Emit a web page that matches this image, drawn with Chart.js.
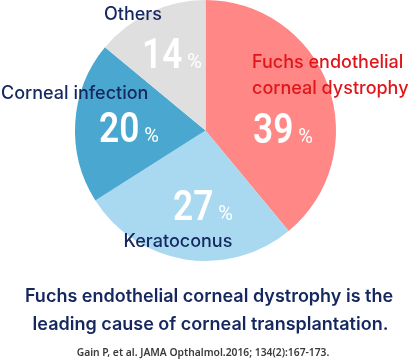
<!DOCTYPE html>
<html>
<head>
<meta charset="utf-8">
<script src="https://cdn.jsdelivr.net/npm/chart.js@4/dist/chart.umd.min.js"></script>
<style>
  html, body { margin:0; padding:0; background:#fff; }
  #wrap { position:relative; width:410px; height:360px; }
</style>
</head>
<body>
<div id="wrap"><canvas id="pie" width="410" height="360"></canvas></div>
<script>
'use strict';

/* ─── Data ─────────────────────────────────────────────────────── */
const categories = ['Fuchs endothelial corneal dystrophy', 'Keratoconus', 'Corneal infection', 'Others'];
const shares     = [39, 27, 20, 14];
const colors     = ['#ff8785', '#a9d9f1', '#4aa7cf', '#dfdfdf'];

const NAVY = '#15275f';
const RED  = '#e0151a';

/* ─── Text placement (layout only) ─────────────────────────────── */
const nameLabels = [
  { lines:['Fuchs endothelial', 'corneal dystrophy'], x:252, y:68, align:'left',  color:RED },
  { lines:['Keratoconus'],       x:178, y:247, align:'center', color:NAVY },
  { lines:['Corneal infection'], x:1,   y:99,  align:'left',   color:NAVY },
  { lines:['Others'],            x:133, y:20,  align:'center', color:NAVY },
];
const pctPos = [
  { x:253, y:143 },
  { x:173, y:220 },
  { x:99,  y:142 },
  { x:142, y:68 },
];

/* ─── Label plugin ─────────────────────────────────────────────── */
const labelPlugin = {
  id: 'labels',
  afterDraw(chart) {
    const ctx = chart.ctx;
    const vals = chart.data.datasets[0].data;
    ctx.save();
    ctx.textBaseline = 'alphabetic';

    // percentages: condensed bold number + small %
    vals.forEach((v, i) => {
      const p = pctPos[i];
      ctx.fillStyle = '#ffffff';
      ctx.textAlign = 'left';
      ctx.font = '600 42px Roboto';
      const sx = 0.84;
      const w = ctx.measureText(String(v)).width * sx;
      ctx.save();
      ctx.translate(p.x, p.y);
      ctx.scale(sx, 1);
      ctx.fillText(String(v), 0, 0);
      ctx.restore();
      ctx.font = '400 20px Roboto';
      ctx.fillText('%', p.x + w + 5, p.y);
    });

    // category names
    ctx.font = '500 18px Inter';
    nameLabels.forEach(l => {
      ctx.fillStyle = l.color;
      ctx.textAlign = l.align;
      l.lines.forEach((t, j) => ctx.fillText(t, l.x, l.y + j * 26));
    });

    // caption
    ctx.fillStyle = NAVY;
    ctx.textAlign = 'center';
    ctx.font = '600 18px Inter';
    ctx.fillText('Fuchs endothelial corneal dystrophy is the', 209, 302);
    ctx.fillText('leading cause of corneal transplantation.', 210.5, 330);

    ctx.fillStyle = '#3a3a3a';
    ctx.font = '600 10.3px "Noto Sans"';
    ctx.fillText('Gain P, et al. JAMA Opthalmol.2016; 134(2):167-173.', 203, 356);
    ctx.restore();
  }
};

/* ─── Chart ────────────────────────────────────────────────────── */
new Chart(document.getElementById('pie'), {
  type: 'pie',
  data: {
    labels: categories,
    datasets: [{
      data: shares,
      backgroundColor: colors,
      borderWidth: 0,
    }]
  },
  options: {
    responsive: false,
    animation: false,
    layout: { padding: { top:0, bottom:99, left:75, right:74 } },
    plugins: {
      legend:  { display:false },
      tooltip: { enabled:false },
    }
  },
  plugins: [labelPlugin]
});
</script>
</body>
</html>
